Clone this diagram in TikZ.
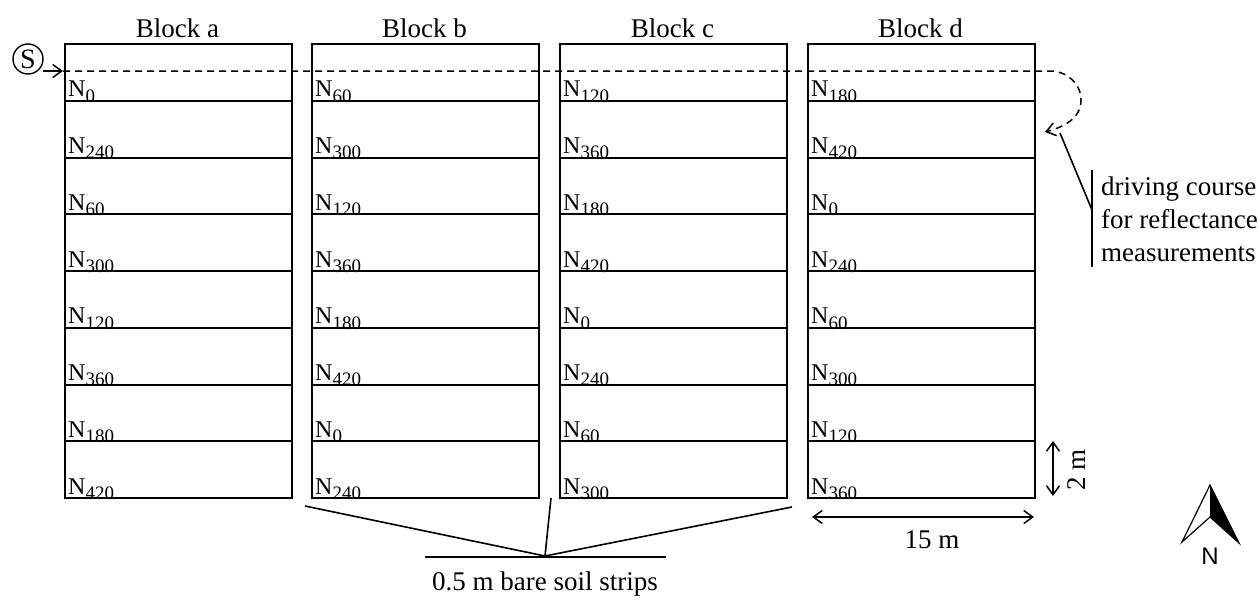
\documentclass[tikz,border=0pt]{standalone}
\usepackage{fontspec}
\setmainfont{Liberation Serif}
\newfontfamily\nfont{Liberation Sans}
\usetikzlibrary{arrows.meta,calc}
\newcommand\Nl[1]{N\raisebox{-0.22em}{\fontsize{19}{19}\selectfont #1}}
\begin{document}
\begin{tikzpicture}[x=1pt,y=-1pt,
  cell/.style={draw, line width=2pt, minimum width=227pt, minimum height=56.75pt, anchor=north west, inner sep=0pt},
  nlab/.style={anchor=base west, inner sep=0pt, font=\fontsize{24}{24}\selectfont},
  blab/.style={anchor=base, inner sep=0pt, font=\fontsize{27}{27}\selectfont},
  txt/.style={inner sep=0pt, font=\fontsize{27}{33}\selectfont},
  barb/.style={-{Straight Barb[length=9pt,width=13pt,line width=1.5pt]}, line width=1.5pt},
  dbarb/.style={{Straight Barb[length=9pt,width=13pt,line width=1.5pt]}-{Straight Barb[length=9pt,width=13pt,line width=1.5pt]}, line width=1.5pt},
  thin/.style={line width=1.6pt}]
\useasboundingbox (0,0) rectangle (1260,597);

% blocks
\foreach \b/\x/\l in {a/64/{0,240,60,300,120,360,180,420},
                      b/311/{60,300,120,360,180,420,0,240},
                      c/559/{120,360,180,420,0,240,60,300},
                      d/807/{180,420,0,240,60,300,120,360}}{
  \node[blab] (B\b) at (\x+113.5,37) {Block \b};
  \foreach \v [count=\i] in \l {
    \node[cell] (\b\i) at (\x,{43+(\i-1)*56.75}) {};
    \node[nlab] (l\b\i) at ($(\b\i.south west)+(4,-5)$) {\Nl{\v}};
  }
}

% start marker and driving course
\node[draw, circle, line width=1.4pt, minimum size=30pt, inner sep=0pt, font=\fontsize{28}{28}\selectfont] (S) at (28,59) {S};
\coordinate (sA) at (43,71);
\coordinate (ds) at (63,71);
\coordinate (de) at (1050,71);
\coordinate (dturn) at (1081,100);
\coordinate (dend) at (1045,132);
\draw[barb] (sA) -- (ds);
\draw[barb, dash pattern=on 7pt off 5pt] (ds) -- (de) to[out=0,in=90] (dturn) to[out=-90,in=15] (dend);

% driving course label
\coordinate (p0) at (1060,133);
\coordinate (bt) at (1092,170);
\coordinate (pm) at (1092,210);
\coordinate (bb) at (1092,267);
\draw[thin] (p0) -- (pm);
\draw[thin] (bt) -- (bb);
\node[txt, anchor=base west, align=left] (dc) at (1101,261) {driving course\\for reflectance\\measurements};

% bare soil strips
\coordinate (hub) at (545,556);
\coordinate (s1) at (305,506);
\coordinate (s2) at (551,498);
\coordinate (s3) at (792,507);
\coordinate (hl) at (425,557);
\coordinate (hr) at (666,557);
\draw[thin] (s1) -- (hub) -- (s3);
\draw[thin] (s2) -- (hub);
\draw[thin] (hl) -- (hr);
\node[txt, anchor=base] (soil) at (545,590) {0.5 m bare soil strips};

% dimensions
\coordinate (v1) at (1053,441);
\coordinate (v2) at (1053,496);
\draw[dbarb] (v1) -- (v2);
\node[txt, rotate=90] (two) at (1077,470) {2 m};
\coordinate (h1) at (812,517);
\coordinate (h2) at (1034,517);
\draw[dbarb] (h1) -- (h2);
\node[txt, anchor=base] (fif) at (932,548) {15 m};

% north arrow
\coordinate (nt) at (1210,485);
\coordinate (nl) at (1182,542);
\coordinate (nn) at (1210,517);
\coordinate (nr) at (1239,543);
\fill (nt) -- (nn) -- (nr) -- cycle;
\draw[line width=1.2pt, line join=miter] (nt) -- (nl) -- (nn) -- (nr) -- cycle;
\node[inner sep=0pt, font=\nfont\fontsize{24}{24}\selectfont] (nN) at (1210,556) {N};
\end{tikzpicture}
\end{document}
